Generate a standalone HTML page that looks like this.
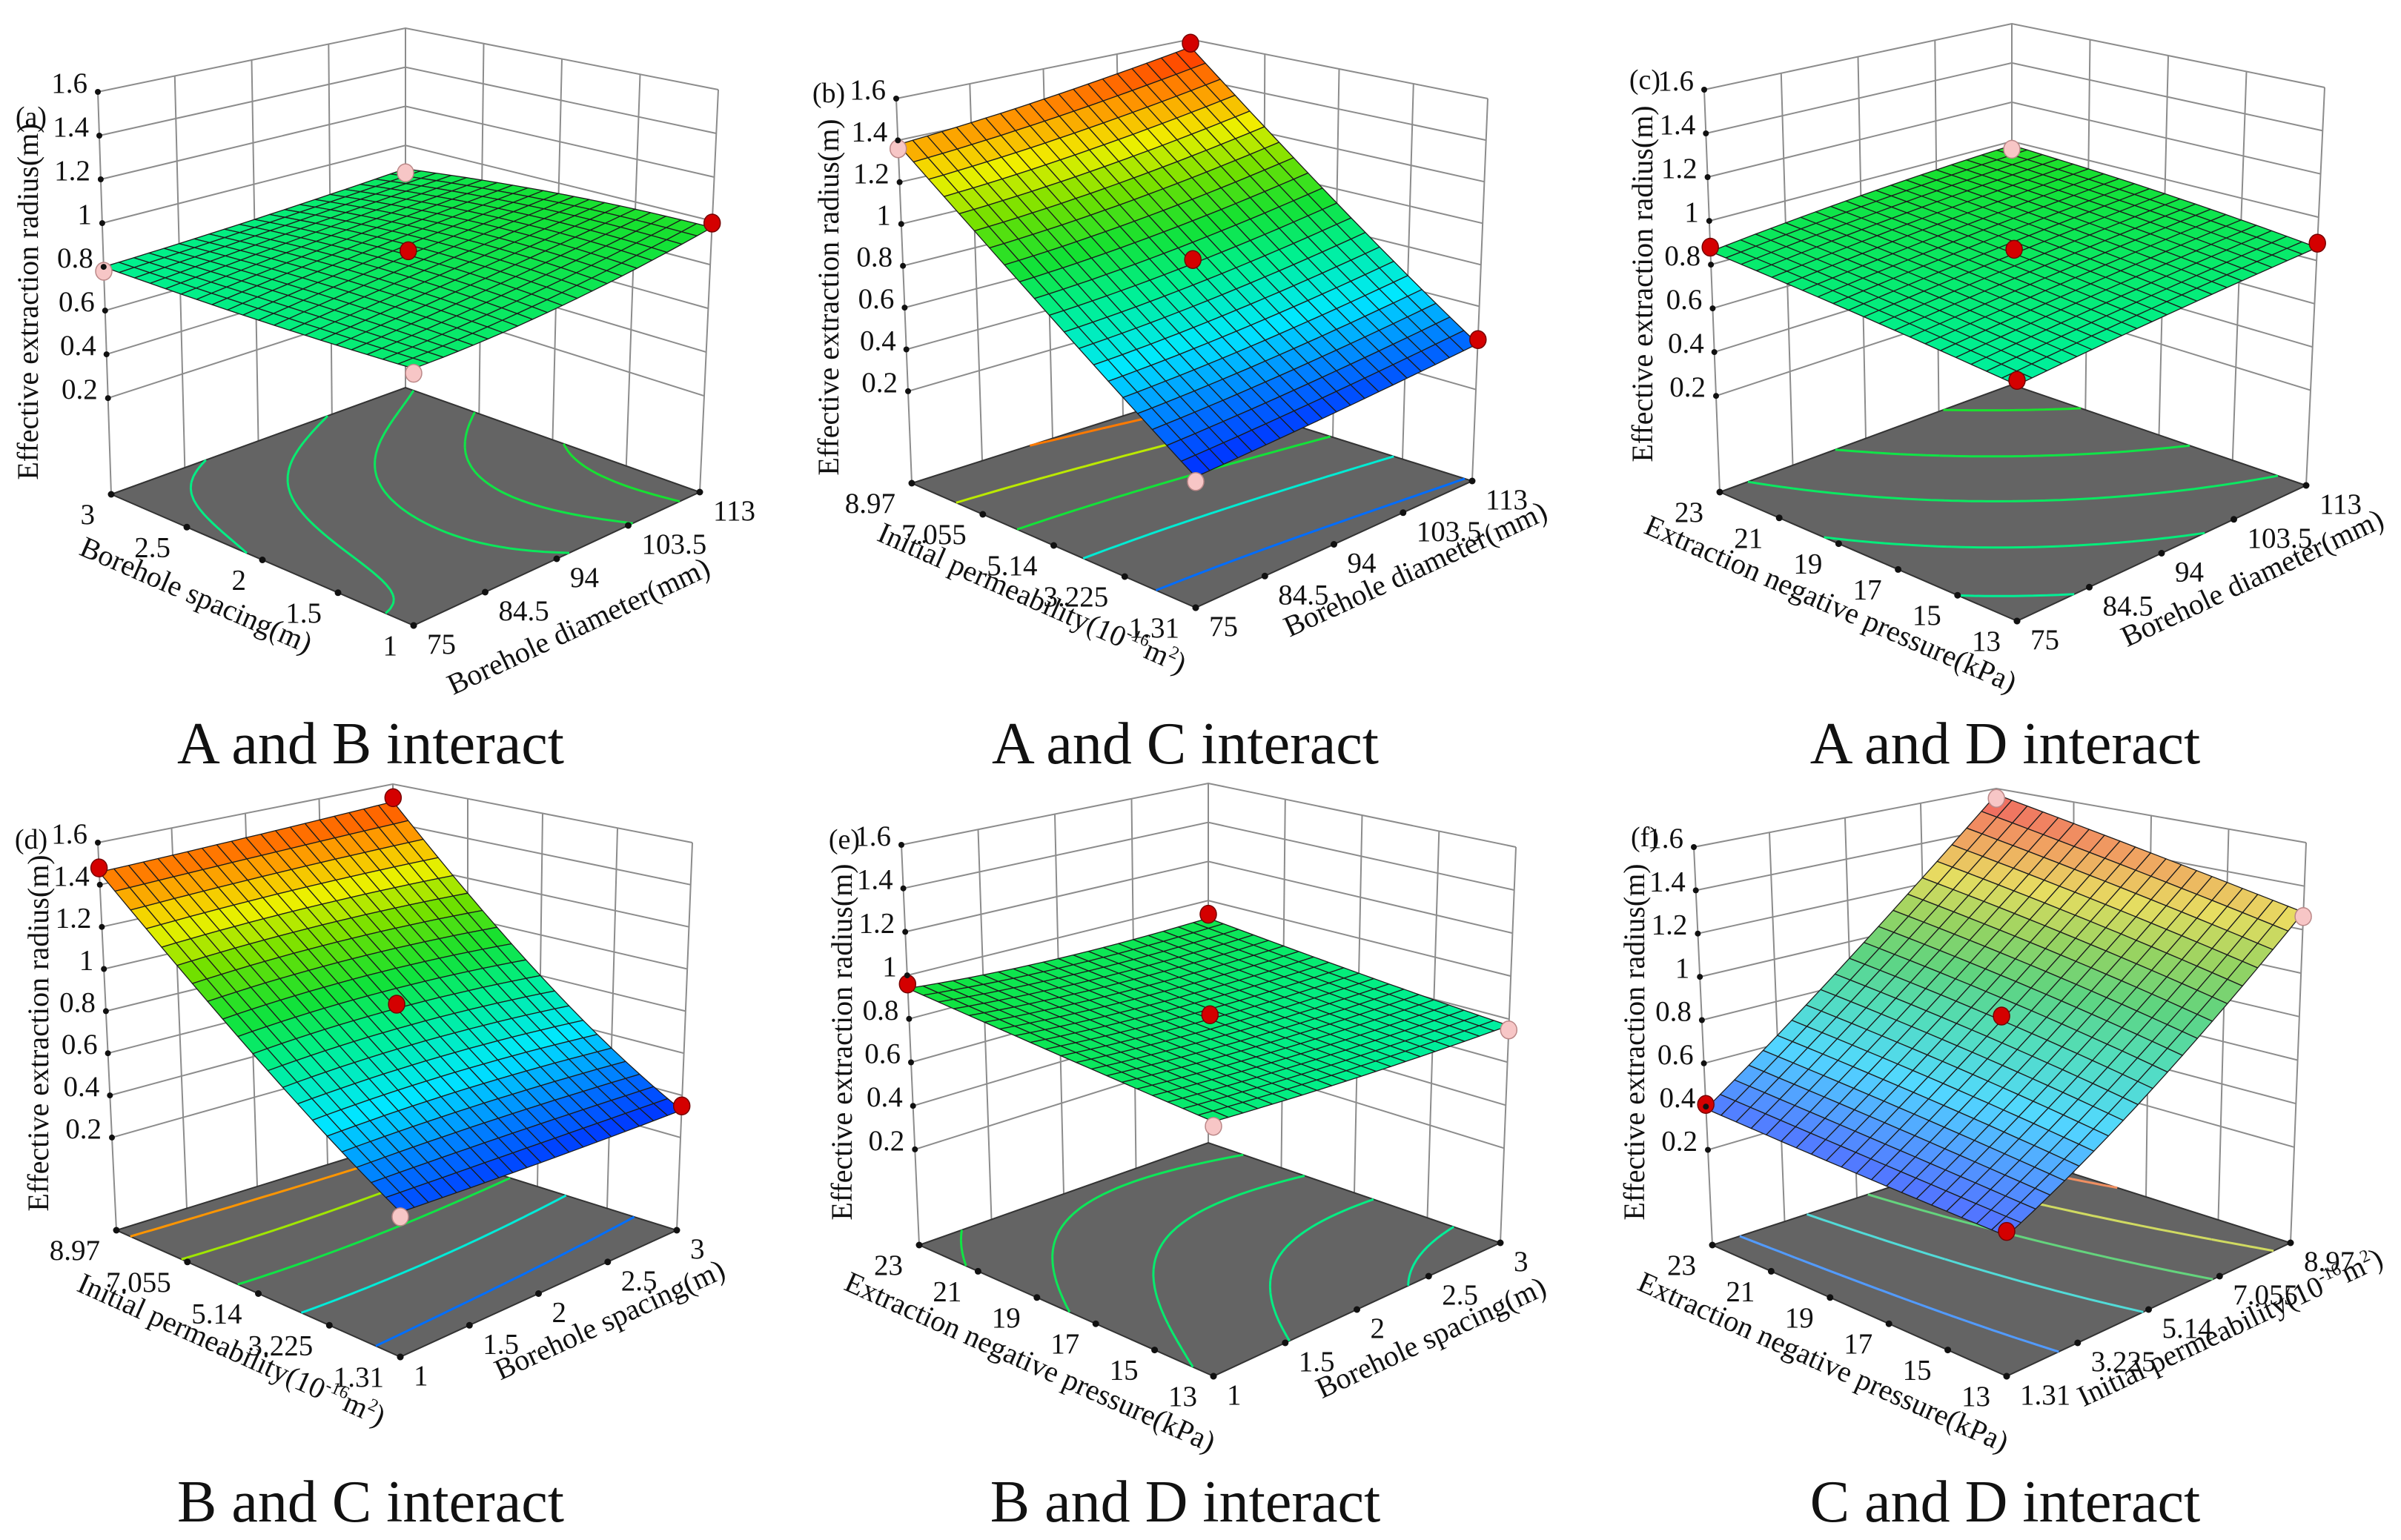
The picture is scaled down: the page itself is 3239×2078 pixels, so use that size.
<!DOCTYPE html>
<html><head><meta charset="utf-8">
<style>
html,body{margin:0;padding:0;background:#fff;}
svg{display:block;}
text{font-family:"Liberation Serif",serif;fill:#111;}
</style></head>
<body>
<svg id="fig" xmlns="http://www.w3.org/2000/svg" width="3239" height="2078" viewBox="0 0 3239 2078">
<rect x="0" y="0" width="3239" height="2078" fill="#fff"/>
<text x="500" y="1030" font-size="80" text-anchor="middle">A and B interact</text>
<text x="1599" y="1030" font-size="80" text-anchor="middle">A and C interact</text>
<text x="2705" y="1030" font-size="80" text-anchor="middle">A and D interact</text>
<text x="500" y="2053" font-size="80" text-anchor="middle">B and C interact</text>
<text x="1599" y="2053" font-size="80" text-anchor="middle">B and D interact</text>
<text x="2705" y="2053" font-size="80" text-anchor="middle">C and D interact</text>
</svg>
<script>
// ---- data ----
const zTicks = [0.2, 0.4, 0.6, 0.8, 1, 1.2, 1.4, 1.6];
const zTickLabels = ['0.2','0.4','0.6','0.8','1','1.2','1.4','1.6'];
const ticksSpacing = ['1','1.5','2','2.5','3'];
const ticksDiameter = ['75','84.5','94','103.5','113'];
const ticksPerm = ['1.31','3.225','5.14','7.055','8.97'];
const ticksPressure = ['13','15','17','19','21','23'];
// 3x3 surface values: rows = left-edge axis (front->left), cols = right-edge axis (front->right)
const gridA = [[0.86,0.88,0.97],[0.82,0.89,0.95],[0.80,0.83,0.88]];
const gridB = [[0.32,0.36,0.42],[0.80,0.84,0.93],[1.38,1.45,1.56]];
const gridC = [[0.77,0.82,0.86],[0.82,0.88,0.93],[0.86,0.93,0.98]];
const gridD = [[0.38,0.35,0.33],[0.84,0.85,0.80],[1.46,1.48,1.51]];
const gridE = [[0.85,0.80,0.77],[0.89,0.84,0.83],[0.94,0.90,0.91]];
const gridF = [[0.36,0.74,1.28],[0.37,0.84,1.42],[0.39,0.92,1.57]];
// design-point markers [front, left, right, back, center]: r = above surface, p = below
const dotsA = ['p','p','r','p','r'];
const dotsB = ['p','p','r','r','r'];
const dotsC = ['r','r','r','p','r'];
const dotsD = ['p','r','r','r','r'];
const dotsE = ['p','r','p','r','r'];
const dotsF = ['r','r','p','p','r'];

const ZF = -0.24, ZT = 1.6;
const NS = 'http://www.w3.org/2000/svg';
const svg = document.getElementById('fig');

const stops = [[0.30,[0,32,255]],[0.45,[0,112,255]],[0.62,[0,232,255]],[0.80,[0,240,144]],[0.95,[20,225,50]],[1.10,[112,224,0]],[1.25,[240,240,0]],[1.40,[255,144,0]],[1.58,[255,32,0]]];
function cmap(z, pastel){
  let c;
  if (z <= stops[0][0]) c = stops[0][1];
  else if (z >= stops[stops.length-1][0]) c = stops[stops.length-1][1];
  else { for (let k=0;k<stops.length-1;k++){ if (z>=stops[k][0] && z<=stops[k+1][0]){ const t=(z-stops[k][0])/(stops[k+1][0]-stops[k][0]); c=stops[k][1].map((v,i)=>v+(stops[k+1][1][i]-v)*t); break; } } }
  if (pastel) c = c.map((v,i)=>v*0.62+[215,190,255][i]*0.38);
  return 'rgb('+c.map(v=>Math.round(v)).join(',')+')';
}
function mk(tag, attrs, parent){
  const e = document.createElementNS(NS, tag);
  for (const k in attrs) e.setAttribute(k, attrs[k]);
  (parent||svg).appendChild(e);
  return e;
}
const panels = [
  {id:'a', grid:gridA, dots:dotsA, F:[558,844],L:[150,667],R:[944,664],K:[547,523],TL:[132,124],TR:[969,121],TK:[547,38],hf:580,
   leftTicks:ticksSpacing, rightTicks:ticksDiameter, leftTitle:'Borehole spacing(m)', rightTitle:'Borehole diameter(mm)',
   lt:[265,802], rt:[780,844], lab:[42,170], yt:[38,407], pastel:false},
  {id:'b', grid:gridB, dots:dotsB, F:[1613,820],L:[1230,652],R:[1986,649],K:[1610,531],TL:[1209,133],TR:[2007,133],TK:[1606,53],hf:580,
   leftTicks:ticksPerm, rightTicks:ticksDiameter, leftTitle:'perm', rightTitle:'Borehole diameter(mm)',
   lt:[1387,805], rt:[1909,767], lab:[1118,138], yt:[1118,401], pastel:false},
  {id:'c', grid:gridC, dots:dotsC, F:[2721,838],L:[2320,664],R:[3111,655],K:[2714,519],TL:[2299,121],TR:[3136,118],TK:[2714,32],hf:580,
   leftTicks:ticksPressure, rightTicks:ticksDiameter, leftTitle:'Extraction negative pressure(kPa)', rightTitle:'Borehole diameter(mm)',
   lt:[2470,814], rt:[3038,779], lab:[2219,120], yt:[2216,383], pastel:false},
  {id:'d', grid:gridD, dots:dotsD, F:[540,1831],L:[157,1660],R:[913,1660],K:[537,1542],TL:[132,1137],TR:[934,1137],TK:[530,1058],hf:580,
   leftTicks:ticksPerm, rightTicks:ticksSpacing, leftTitle:'perm', rightTitle:'Borehole spacing(m)',
   lt:[307,1819], rt:[822,1780], lab:[42,1145], yt:[52,1394], pastel:false},
  {id:'e', grid:gridE, dots:dotsE, F:[1637,1857],L:[1240,1680],R:[2024,1677],K:[1630,1542],TL:[1216,1140],TR:[2045,1143],TK:[1630,1057],hf:580,
   leftTicks:ticksPressure, rightTicks:ticksSpacing, leftTitle:'Extraction negative pressure(kPa)', rightTitle:'Borehole spacing(m)',
   lt:[1390,1837], rt:[1930,1804], lab:[1139,1145], yt:[1136,1406], pastel:false},
  {id:'f', grid:gridF, dots:dotsF, F:[2707,1857],L:[2310,1680],R:[3090,1677],K:[2700,1553],TL:[2285,1143],TR:[3111,1137],TK:[2693,1064],hf:580,
   leftTicks:ticksPressure, rightTicks:ticksPerm, leftTitle:'Extraction negative pressure(kPa)', rightTitle:'perm',
   lt:[2460,1837], rt:[3014,1789], lab:[2219,1142], yt:[2205,1406], pastel:true}
];

function lag(t){ return [2*(t-0.5)*(t-1), -4*t*(t-1), 2*t*(t-0.5)]; }
function surf(g,a,b){ const la=lag(a), lb=lag(b); let z=0; for(let i=0;i<3;i++)for(let j=0;j<3;j++) z+=g[i][j]*la[i]*lb[j]; return z; }

function makeProj(p){
  const TF=[p.F[0], p.F[1]-p.hf];
  const bil=(F,L,R,K,a,b)=>[0,1].map(k=>F[k]*(1-a)*(1-b)+L[k]*a*(1-b)+R[k]*(1-a)*b+K[k]*a*b);
  return function(a,b,z){
    const fl=bil(p.F,p.L,p.R,p.K,a,b), tp=bil(TF,p.TL,p.TR,p.TK,a,b);
    const t=(z-ZF)/(ZT-ZF);
    return [fl[0]+(tp[0]-fl[0])*t, fl[1]+(tp[1]-fl[1])*t];
  };
}
const f1=v=>v.toFixed(1);
function pts(arr){ return arr.map(q=>f1(q[0])+','+f1(q[1])).join(' '); }

function addPermTitle(parent, x, y, ang, name){
  const t = mk('text',{x:x,y:y,'font-size':40,'text-anchor':'middle',transform:'rotate('+ang+' '+x+' '+y+')'},parent);
  
  
  t.appendChild(document.createTextNode('Initial permeability(10'));
  const s1 = mk('tspan',{'font-size':24,dy:-15},t); s1.textContent='-16';
  const s2 = mk('tspan',{'font-size':40,dy:15},t); s2.textContent='m';
  const s3 = mk('tspan',{'font-size':24,dy:-15},t); s3.textContent='2';
  const s4 = mk('tspan',{'font-size':40,dy:15},t); s4.textContent=')';
}

panels.forEach(p=>{
  const P = makeProj(p);
  const G = mk('g',{});
  
  
  const W = mk('g',{stroke:'#8c8c8c','stroke-width':2,fill:'none'},G);
  
  
  for (let k=0;k<=4;k++){
    const b=k/4;
    const l=mk('line',{x1:f1(P(1,b,ZF)[0]),y1:f1(P(1,b,ZF)[1]),x2:f1(P(1,b,ZT)[0]),y2:f1(P(1,b,ZT)[1])},W);
    
    
    const a=k/4;
    const r=mk('line',{x1:f1(P(a,1,ZF)[0]),y1:f1(P(a,1,ZF)[1]),x2:f1(P(a,1,ZT)[0]),y2:f1(P(a,1,ZT)[1])},W);
    
    
  }
  zTicks.forEach(z=>{
    const l=mk('polyline',{points:pts([P(1,0,z),P(1,1,z),P(0,1,z)])},W);
    
    
  });
  const fl=mk('polygon',{points:pts([P(0,0,ZF),P(1,0,ZF),P(1,1,ZF),P(0,1,ZF)]),fill:'#646464',stroke:'#333','stroke-width':2},G);
  
  
  const N=40; const vals=[];
  let mn=1e9,mx=-1e9;
  for(let i=0;i<=N;i++){vals.push([]);for(let j=0;j<=N;j++){const z=surf(p.grid,i/N,j/N);vals[i].push(z);mn=Math.min(mn,z);mx=Math.max(mx,z);}}
  const CG=mk('g',{fill:'none','stroke-width':3},G);
  
  
  for(let c=0;c<5;c++){
    const lv=mn+(c+0.5)*(mx-mn)/5;
    let d='';
    for(let i=0;i<N;i++)for(let j=0;j<N;j++){
      const cs=[[i,j],[i+1,j],[i+1,j+1],[i,j+1]];
      const cr=[];
      for(let e=0;e<4;e++){
        const A=cs[e],B=cs[(e+1)%4];
        const va=vals[A[0]][A[1]],vb=vals[B[0]][B[1]];
        if((va<lv)!==(vb<lv)){const t=(lv-va)/(vb-va);cr.push(P((A[0]+(B[0]-A[0])*t)/N,(A[1]+(B[1]-A[1])*t)/N,ZF));}
      }
      for(let k=0;k+1<cr.length;k+=2) d+='M'+f1(cr[k][0])+' '+f1(cr[k][1])+'L'+f1(cr[k+1][0])+' '+f1(cr[k+1][1]);
    }
    const path=mk('path',{d:d,stroke:cmap(lv,p.pastel)},CG);
    
    
  }
  const M=20;
  const SG=mk('g',{stroke:'#1c1c1c','stroke-width':1.3,'stroke-linejoin':'round'},G);
  
  
  const cells=[];
  for(let i=0;i<M;i++)for(let j=0;j<M;j++)cells.push([i,j]);
  cells.sort((u,v)=>(v[0]+v[1])-(u[0]+u[1]));
  cells.forEach(([i,j])=>{
    const c=[[i,j],[i+1,j],[i+1,j+1],[i,j+1]].map(([x,y])=>{const a=x/M,b=y/M;return [a,b,surf(p.grid,a,b)];});
    const zAvg=(c[0][2]+c[1][2]+c[2][2]+c[3][2])/4;
    const q=mk('polygon',{points:pts(c.map(v=>P(v[0],v[1],v[2]))),fill:cmap(zAvg,p.pastel)},SG);
    
    
  });
  const dp=[[0,0],[1,0],[0,1],[1,1],[0.5,0.5]];
  dp.forEach((ab,k)=>{
    const z=surf(p.grid,ab[0],ab[1]);
    const s=P(ab[0],ab[1],z+(p.dots[k]==='r'?0.02:-0.02));
    const c=mk('ellipse',{cx:f1(s[0]),cy:f1(s[1]),rx:11,ry:12,fill:p.dots[k]==='r'?'#d40000':'#f7c6c6',stroke:p.dots[k]==='r'?'#700':'#b88','stroke-width':1.5},G);
    
    
  });
  zTicks.forEach((z,k)=>{
    const s=P(1,0,z);
    const d=mk('circle',{cx:f1(s[0]),cy:f1(s[1]),r:4,fill:'#111'},G);
    
    
    const t=mk('text',{x:f1(s[0]-14),y:f1(s[1]+1),'font-size':39,'text-anchor':'end'},G);
    
    
    t.textContent=zTickLabels[k];
  });
  const nl=p.leftTicks.length-1;
  p.leftTicks.forEach((lb,k)=>{
    const s=P(k/nl,0,ZF);
    const d=mk('circle',{cx:f1(s[0]),cy:f1(s[1]),r:4.5,fill:'#111'},G);
    
    
    const t=mk('text',{x:f1(s[0]-22),y:f1(s[1]+40),'font-size':39,'text-anchor':'end'},G);
    
    
    t.textContent=lb;
  });
  const nr=p.rightTicks.length-1;
  p.rightTicks.forEach((lb,k)=>{
    const s=P(0,k/nr,ZF);
    const d=mk('circle',{cx:f1(s[0]),cy:f1(s[1]),r:4.5,fill:'#111'},G);
    
    
    const t=mk('text',{x:f1(s[0]+18),y:f1(s[1]+38),'font-size':39,'text-anchor':'start'},G);
    
    
    t.textContent=lb;
  });
  const la=Math.atan2(p.F[1]-p.L[1],p.F[0]-p.L[0])*180/Math.PI;
  const ra=Math.atan2(p.R[1]-p.F[1],p.R[0]-p.F[0])*180/Math.PI;
  if(p.leftTitle==='perm') addPermTitle(G,p.lt[0],p.lt[1]+14,la.toFixed(1),'left-axis-title');
  else {
    const t=mk('text',{x:p.lt[0],y:p.lt[1]+14,'font-size':40,'text-anchor':'middle',transform:'rotate('+la.toFixed(1)+' '+p.lt[0]+' '+p.lt[1]+')'},G);
    
    
    t.textContent=p.leftTitle;
  }
  if(p.rightTitle==='perm') addPermTitle(G,p.rt[0],p.rt[1]+14,ra.toFixed(1),'right-axis-title');
  else {
    const t=mk('text',{x:p.rt[0],y:p.rt[1]+14,'font-size':40,'text-anchor':'middle',transform:'rotate('+ra.toFixed(1)+' '+p.rt[0]+' '+p.rt[1]+')'},G);
    
    
    t.textContent=p.rightTitle;
  }
  const yt=mk('text',{x:p.yt[0],y:p.yt[1],'font-size':40,'text-anchor':'middle',transform:'rotate(-90 '+p.yt[0]+' '+p.yt[1]+')',dy:13},G);
  
  
  yt.textContent='Effective extraction radius(m)';
  const lb=mk('text',{x:p.lab[0],y:p.lab[1],'font-size':38,'text-anchor':'middle'},G);
  
  
  lb.textContent='('+p.id+')';
});
</script>
</body></html>
